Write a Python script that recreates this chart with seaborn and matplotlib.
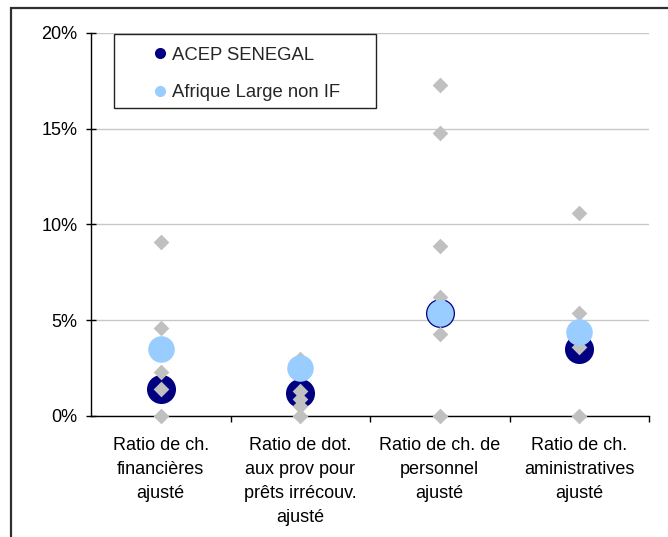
import numpy as np
import pandas as pd
import seaborn as sns
import matplotlib.pyplot as plt
from matplotlib.lines import Line2D
from matplotlib.patches import Rectangle

categories = [
    "Ratio de ch.\nfinancières\najusté",
    "Ratio de dot.\naux prov pour\nprêts irrécouv.\najusté",
    "Ratio de ch. de\npersonnel\najusté",
    "Ratio de ch.\naministratives\najusté",
]

# values in %
acep_senegal = [1.4, 1.2, 5.4, 3.5]
afrique_large = [3.5, 2.5, 5.4, 4.4]

peers_cat1 = [9.1, 4.6, 2.3, 1.4, 0.0]
peers_cat2 = [3.0, 1.3, 0.9, 0.5, 0.0]
peers_cat3 = [17.3, 14.8, 8.9, 6.2, 4.3, 0.0]
peers_cat4 = [10.6, 5.4, 3.6, 0.0]

y_ticks = [0, 5, 10, 15, 20]
y_ticklabels = ["0%", "5%", "10%", "15%", "20%"]

DARK = "#000080"
LIGHT = "#99CCFF"
GREY = "#C0C0C0"

sns.set_theme(style="white")
plt.rcParams["font.family"] = ["Liberation Sans", "DejaVu Sans"]

main_df = pd.DataFrame({
    "cat": categories,
    "acep": acep_senegal,
    "afrique": afrique_large,
})

peer_rows = []
for cat, vals in zip(categories, [peers_cat1, peers_cat2, peers_cat3, peers_cat4]):
    for v in vals:
        peer_rows.append({"cat": cat, "value": v})
peer_df = pd.DataFrame(peer_rows)

W, H = 668, 537
fig = plt.figure(figsize=(W / 100, H / 100), dpi=100)
ax = fig.add_axes([91 / W, 1 - 416 / H, (649 - 91) / W, (416 - 33) / H])

# dark circles first, then grey peers, then light circles on top
sns.stripplot(data=main_df, x="cat", y="acep", order=categories, jitter=False,
              color=DARK, size=20.9, linewidth=0, zorder=3, clip_on=False, ax=ax)
sns.stripplot(data=peer_df, x="cat", y="value", order=categories, jitter=False,
              color=GREY, marker="D", size=8.0, linewidth=0, zorder=4, clip_on=False, ax=ax)
sns.stripplot(data=main_df, x="cat", y="afrique", order=categories, jitter=False,
              color=LIGHT, size=19.1, linewidth=0, zorder=5, clip_on=False, ax=ax)

ax.set_xlim(-0.5, len(categories) - 0.5)
ax.set_ylim(0, 20)
ax.set_yticks(y_ticks)
ax.set_yticklabels(y_ticklabels, fontsize=13, color="black")
ax.set_xticks(range(len(categories)))
ax.set_xticklabels(categories, fontsize=13, color="black", linespacing=1.55)
ax.set_xticks(np.arange(len(categories)) + 0.5, minor=True)
ax.tick_params(axis="x", which="major", length=0, pad=15)
ax.tick_params(axis="x", which="minor", direction="out", length=4.5, width=1, color="black", bottom=True)
ax.tick_params(axis="y", which="major", direction="inout", length=7.5, width=1, color="black", pad=6, left=True)
ax.set_xlabel("")
ax.set_ylabel("")

ax.grid(axis="y", color="#C8C8C8", linewidth=1)
ax.set_axisbelow(True)
for side in ["top", "right"]:
    ax.spines[side].set_visible(False)
for side in ["left", "bottom"]:
    ax.spines[side].set_color("black")
    ax.spines[side].set_linewidth(1)
    ax.spines[side].set_zorder(2)

# legend
handles = [
    Line2D([], [], linestyle="none", marker="o", markersize=8, markerfacecolor=DARK, markeredgewidth=0),
    Line2D([], [], linestyle="none", marker="o", markersize=8, markerfacecolor=LIGHT, markeredgewidth=0),
]
ax.legend(handles, ["ACEP SENEGAL", "Afrique Large non IF"], loc="upper left",
          bbox_to_anchor=(151 / W, 1 - 46.5 / H), bbox_transform=fig.transFigure,
          frameon=False, borderpad=0, borderaxespad=0, handlelength=1.0,
          handletextpad=0.15, labelspacing=1.12, fontsize=13.3)
fig.add_artist(Rectangle((114 / W, 1 - 108 / H), (376 - 114) / W, (108 - 34) / H,
                         transform=fig.transFigure, fill=False, edgecolor="#222222",
                         linewidth=1, zorder=6))

# outer chart frame
fig.add_artist(Rectangle((11 / W, -0.2), 1.2, 1.2 - 8 / H, transform=fig.transFigure,
                         fill=False, edgecolor="#303030", linewidth=1.6, clip_on=False))

fig.savefig("out.png", dpi=100)
